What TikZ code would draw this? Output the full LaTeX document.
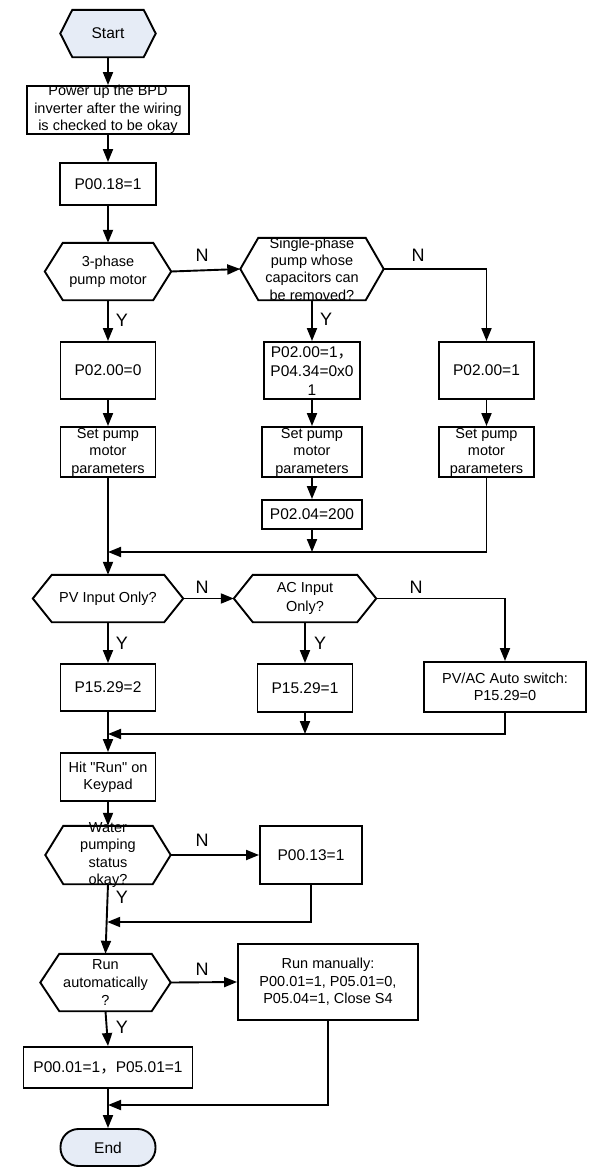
\documentclass[tikz,border=0pt]{standalone}
\usepackage{fontspec}
\setmainfont{Liberation Sans}
\newfontfamily\qfont{Liberation Sans}
\newfontfamily\cjkfont{Noto Sans CJK SC}
\usetikzlibrary{arrows.meta,calc}
\definecolor{termfill}{RGB}{230,236,246}
\newcommand\fs{\fontsize{14.5}{17.5}\selectfont}
\newcommand\fb{\fontsize{15.5}{19}\selectfont}
\newcommand\fwc{{\cjkfont ，}}
\newcommand\sq{{\qfont "}}
\newcommand\hexdraw[3][white]{%
  \draw[line width=1.9pt, fill=#1, line join=miter] (#2.west) -- ($(#2.north west)+(#3,0)$) -- ($(#2.north east)+(-#3,0)$) -- (#2.east) -- ($(#2.south east)+(-#3,0)$) -- ($(#2.south west)+(#3,0)$) -- cycle;}
\begin{document}
\begin{tikzpicture}[x=1pt,y=-1pt,
  arr/.style={line width=1.9pt, -{Triangle[length=13pt,width=10pt]}},
  proc/.style={draw, line width=1.9pt, rectangle, inner sep=0pt, align=center, font=\fs},
  hexbase/.style={rectangle, inner sep=0pt, draw=none},
  txt/.style={align=center, font=\fs, inner sep=0pt},
  lbl/.style={font=\fontsize{18}{20}\selectfont, inner sep=0pt}]
\useasboundingbox (0,0) rectangle (593,1173);

% Start
\node[hexbase, minimum width=95pt, minimum height=47pt] (start) at (108,33.5) {};
\hexdraw[termfill]{start}{12}
\node[txt, font=\fb] (startT) at (start) {Start};

\node[proc, minimum width=162pt, minimum height=48pt] (power) at (108,110) {};
\node[txt] (powerT) at (108,109.5) {Power up the BPD\\inverter after the wiring\\is checked to be okay};

\node[proc, font=\fb, minimum width=96pt, minimum height=42pt] (p0018) at (108,184) {P00.18=1};

% decision 1
\node[hexbase, minimum width=126pt, minimum height=57pt] (d1) at (108,271.5) {};
\hexdraw{d1}{18}
\node[txt] (d1T) at (d1) {3-phase\\pump motor};

% decision 2
\node[hexbase, minimum width=143pt, minimum height=62pt] (d2) at (312,269) {};
\hexdraw{d2}{18}
\node[txt, font=\fontsize{14.5}{17.3}\selectfont] (d2T) at (d2) {Single-phase\\pump whose\\capacitors can\\be removed?};

\node[proc, font=\fb, minimum width=95pt, minimum height=57pt] (b1) at (108,370.5) {P02.00=0};
\node[proc, minimum width=96pt, minimum height=57pt] (b2) at (312,370.5) {};
\node[txt, font=\fb] (b2T) at (312,371) {P02.00=1\fwc\\P04.34=0x0\\1};
\node[proc, font=\fb, minimum width=95pt, minimum height=57pt] (b3) at (486.5,370.5) {P02.00=1};

\node[proc, minimum width=95pt, minimum height=50pt] (s1) at (108,452) {Set pump\\motor\\parameters};
\node[proc, minimum width=100pt, minimum height=50pt] (s2) at (312,452) {Set pump\\motor\\parameters};
\node[proc, minimum width=95pt, minimum height=50pt] (s3) at (486.5,452) {Set pump\\motor\\parameters};
\node[proc, font=\fb, minimum width=100pt, minimum height=29pt] (p0204) at (312,514.5) {P02.04=200};

% decision 3 and 4
\node[hexbase, minimum width=150pt, minimum height=47pt] (d3) at (108,598.5) {};
\hexdraw{d3}{19}
\node[txt] (d3T) at (d3) {PV Input Only?};
\node[hexbase, minimum width=142pt, minimum height=47pt] (d4) at (305,598.5) {};
\hexdraw{d4}{19}
\node[txt, font=\fontsize{14.5}{18.5}\selectfont] (d4T) at (d4) {AC Input\\Only?};

\node[proc, font=\fb, minimum width=95pt, minimum height=47pt] (p15292) at (108,687.5) {P15.29=2};
\node[proc, font=\fb, minimum width=95pt, minimum height=48pt] (p15291) at (305,688) {P15.29=1};
\node[proc, minimum width=162pt, minimum height=50pt] (pvac) at (505,687) {PV/AC Auto switch:\\P15.29=0};

\node[proc, minimum width=95pt, minimum height=48pt] (hit) at (108,777) {Hit \sq Run\sq{} on\\Keypad};

% decision 5
\node[hexbase, minimum width=125pt, minimum height=58pt] (d5) at (108,855) {};
\hexdraw{d5}{18}
\node[txt] (d5T) at (d5) {Water\\pumping\\status\\okay?};
\node[proc, font=\fb, minimum width=102pt, minimum height=58pt] (p0013) at (311,855) {P00.13=1};

% decision 6
\node[hexbase, minimum width=130pt, minimum height=57pt] (d6) at (105.5,982.5) {};
\hexdraw{d6}{19}
\node[txt, font=\fontsize{14.5}{18}\selectfont] (d6T) at (d6) {Run\\automatically\\?};
\node[proc, minimum width=180pt, minimum height=76pt] (rm) at (328,982) {Run manually:\\P00.01=1, P05.01=0,\\P05.04=1, Close S4};

\node[proc, font=\fb, minimum width=169pt, minimum height=41pt] (p0001) at (108,1067.5) {P00.01=1\fwc P05.01=1};

\node[draw, line width=1.9pt, fill=termfill, rectangle, rounded corners=18pt, inner sep=0pt, font=\fb, minimum width=95pt, minimum height=37pt] (end) at (108,1147.5) {End};

% connectors
\draw[arr] (start.south) -- (power.north);
\draw[arr] (power.south) -- (p0018.north);
\draw[arr] (p0018.south) -- (d1.north);
\draw[arr] (d1.east) -- (d2.west);
\draw[arr] (d1.south) -- (b1.north);
\draw[arr] (d2.south) -- (b2.north);
\draw[arr] (d2.east) -| (b3.north);
\draw[arr] (b1.south) -- (s1.north);
\draw[arr] (b2.south) -- (s2.north);
\draw[arr] (b3.south) -- (s3.north);
\draw[arr] (s2.south) -- (p0204.north);
\coordinate (j1) at (108,552);
\coordinate (j1m) at (312,552);
\draw[arr] (p0204.south) -- (j1m);
\draw[arr] (s3.south) |- (j1);
\draw[arr] (s1.south) -- (d3.north);
\draw[arr] (d3.east) -- (d4.west);
\draw[arr] (d3.south) -- (p15292.north);
\draw[arr] (d4.south) -- (p15291.north);
\draw[arr] (d4.east) -| (pvac.north);
\coordinate (j2) at (108,734);
\coordinate (j2m) at (305,734);
\draw[arr] (p15291.south) -- (j2m);
\draw[arr] (pvac.south) |- (j2);
\draw[arr] (p15292.south) -- (hit.north);
\draw[arr] (hit.south) -- (d5.north);
\draw[arr] (d5.east) -- (p0013.west);
\coordinate (j3) at (107.2,922);
\draw[arr] (p0013.south) |- (j3);
\draw[arr] (d5.south) -- (d6.north);
\draw[arr] (d6.east) -- (rm.west);
\draw[arr] (d6.south) -- (p0001.north);
\coordinate (j4) at (108,1105);
\draw[arr] (rm.south) |- (j4);
\draw[arr] (p0001.south) -- (end.north);

% labels
\node[lbl] (n1) at (202,255) {N};
\node[lbl] (n2) at (418,255) {N};
\node[lbl] (y1) at (122,320) {Y};
\node[lbl] (y2) at (326,319) {Y};
\node[lbl] (n3) at (202,587) {N};
\node[lbl] (n4) at (416,587) {N};
\node[lbl] (y3) at (122,643) {Y};
\node[lbl] (y4) at (320,643) {Y};
\node[lbl] (n5) at (202,840) {N};
\node[lbl] (y5) at (122,897) {Y};
\node[lbl] (n6) at (202,969) {N};
\node[lbl] (y6) at (122,1027) {Y};
\end{tikzpicture}
\end{document}
